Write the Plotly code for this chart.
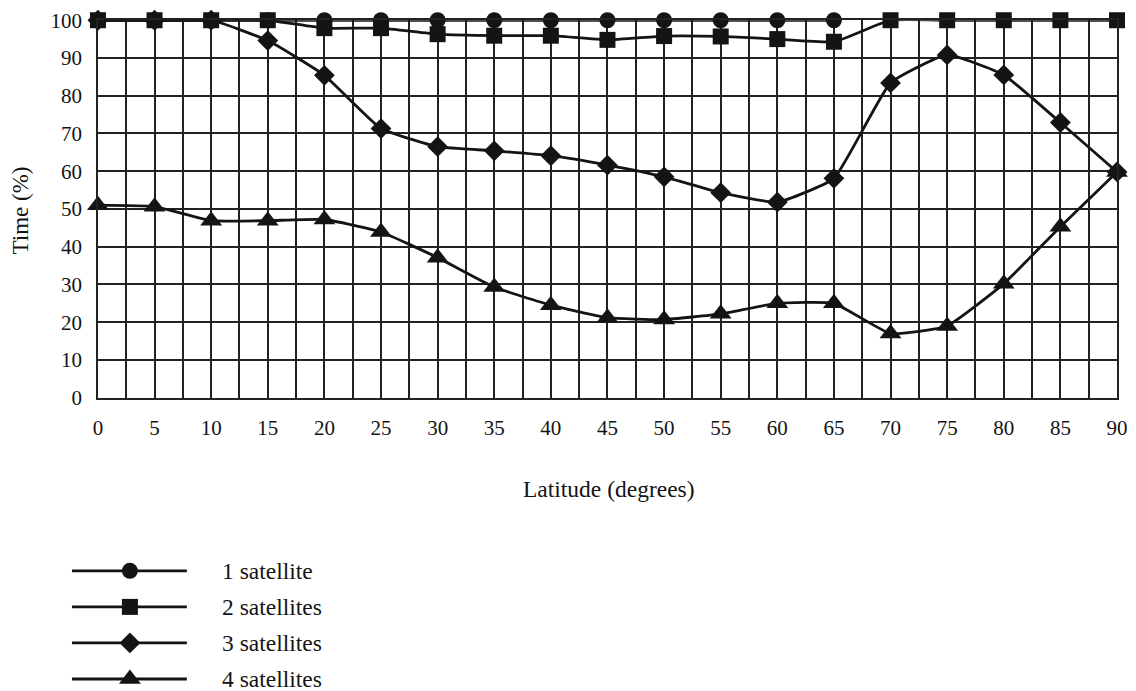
import plotly.graph_objects as go

latitude = [0, 5, 10, 15, 20, 25, 30, 35, 40, 45, 50, 55, 60, 65, 70, 75, 80, 85, 90]
lat_1sat = [0, 5, 10, 15, 20, 25, 30, 35, 40, 45, 50, 55, 60, 65]
sat1 = [100, 100, 100, 100, 100, 100, 100, 100, 100, 100, 100, 100, 100, 100]
sat2 = [100, 100, 100, 100, 97.9, 97.9, 96.3, 95.9, 95.9, 94.8, 95.8, 95.7, 95.0, 94.3,
        100, 100, 100, 100, 100]
sat3 = [100, 100, 100, 94.6, 85.4, 71.3, 66.5, 65.4, 64.1, 61.6, 58.5, 54.3, 51.8, 58.1,
        83.4, 90.8, 85.5, 72.9, 59.8]
sat4 = [51.0, 50.6, 46.9, 46.9, 47.2, 43.9, 37.1, 29.3, 24.5, 21.2, 20.7, 22.2, 25.0, 25.0,
        17.0, 19.0, 30.2, 45.3, 59.8]

names = ["1 satellite", "2 satellites", "3 satellites", "4 satellites"]
symbols = ["circle", "square", "diamond", "triangle-up"]
sizes = [16, 16, 16, 19]
x_ticks = [0, 5, 10, 15, 20, 25, 30, 35, 40, 45, 50, 55, 60, 65, 70, 75, 80, 85, 90]
y_ticks = [0, 10, 20, 30, 40, 50, 60, 70, 80, 90, 100]

INK = "#141414"
FONT = "Liberation Serif, Times New Roman, serif"
W, H = 1136, 704
SY = H / 691.0
ML, MR, MT, MB = 30, 10, 12, 0
PW, PH = W - ML - MR, H - MT - MB

def px_x(p):
    return (p - ML) / PW

def px_y(p):
    return (H - MB - p * SY) / PH

fig = go.Figure()

series = [(lat_1sat, sat1, 0), (latitude, sat2, 1), (latitude, sat3, 2), (latitude, sat4, 3)]
for xs, ys, i in [series[3], series[2], series[0], series[1]]:
    fig.add_trace(go.Scatter(
        x=xs, y=ys, name=names[i], mode="lines+markers",
        line=dict(color=INK, width=2.8, shape="spline", smoothing=0.4),
        marker=dict(symbol=symbols[i], size=sizes[i], color=INK),
        cliponaxis=False, showlegend=False,
    ))

# custom legend (long line samples) on an auxiliary axis pair, x in page pixels
LEG_X0, LEG_XM, LEG_X1, LEG_TX = 72, 130, 187, 220
for i, nm in enumerate(names):
    row = i + 1
    fig.add_trace(go.Scatter(
        x=[LEG_X0, LEG_X1], y=[row, row], mode="lines",
        line=dict(color=INK, width=2.8), xaxis="x2", yaxis="y2",
        showlegend=False, hoverinfo="skip", cliponaxis=False,
    ))
    fig.add_trace(go.Scatter(
        x=[LEG_XM], y=[row], mode="markers",
        marker=dict(symbol=symbols[i], size=sizes[i], color=INK),
        xaxis="x2", yaxis="y2", showlegend=False, hoverinfo="skip", cliponaxis=False,
    ))
    fig.add_annotation(x=LEG_TX, y=row, xref="x2", yref="y2", text=nm,
                       showarrow=False, xanchor="left", yanchor="middle",
                       font=dict(family=FONT, size=23.5, color=INK))

# axis titles
fig.add_annotation(x=px_x(610), y=px_y(488), xref="paper", yref="paper",
                   text="Latitude (degrees)", showarrow=False,
                   xanchor="center", yanchor="middle",
                   font=dict(family=FONT, size=23.5, color=INK))
fig.add_annotation(x=px_x(20), y=px_y(210), xref="paper", yref="paper",
                   text="Time (%)", textangle=-90, showarrow=False,
                   xanchor="center", yanchor="middle",
                   font=dict(family=FONT, size=23, color=INK))

grid = "#222222"
fig.update_layout(
    width=W, height=H,
    margin=dict(l=ML, r=MR, t=MT, b=MB),
    paper_bgcolor="white", plot_bgcolor="white",
    font=dict(family=FONT, size=21, color=INK),
    xaxis=dict(domain=[px_x(98), px_x(1118)], range=[0, 90], tickvals=x_ticks,
               ticktext=[str(v) for v in x_ticks],
               showgrid=True, gridcolor=grid, gridwidth=1.5,
               minor=dict(dtick=2.5, tick0=0, showgrid=True, gridcolor=grid, gridwidth=1.5),
               showline=True, linecolor=grid, linewidth=1.5, mirror=True,
               ticks="", zeroline=False, ticklabelstandoff=10,
               tickfont=dict(family=FONT, size=21, color=INK), anchor="y"),
    yaxis=dict(domain=[px_y(397), px_y(20)], range=[0, 100], tickvals=y_ticks,
               showgrid=True, gridcolor=grid, gridwidth=1.5,
               showline=True, linecolor=grid, linewidth=1.5, mirror=True,
               ticks="", zeroline=False, ticklabelstandoff=10,
               tickfont=dict(family=FONT, size=21, color=INK), anchor="x"),
    xaxis2=dict(domain=[0, px_x(340)], range=[ML, 340], visible=False,
                fixedrange=True, anchor="y2"),
    yaxis2=dict(domain=[px_y(689), px_y(552)], range=[0.5 + 137 / 36, 0.5],
                visible=False, fixedrange=True, anchor="x2"),
)

fig.write_html(
    "out.html",
    config={"displayModeBar": False},
    post_script="document.body.style.margin='0';document.body.style.padding='0';"
                "document.body.style.overflow='hidden';"
                "document.documentElement.style.overflow='hidden';",
)
